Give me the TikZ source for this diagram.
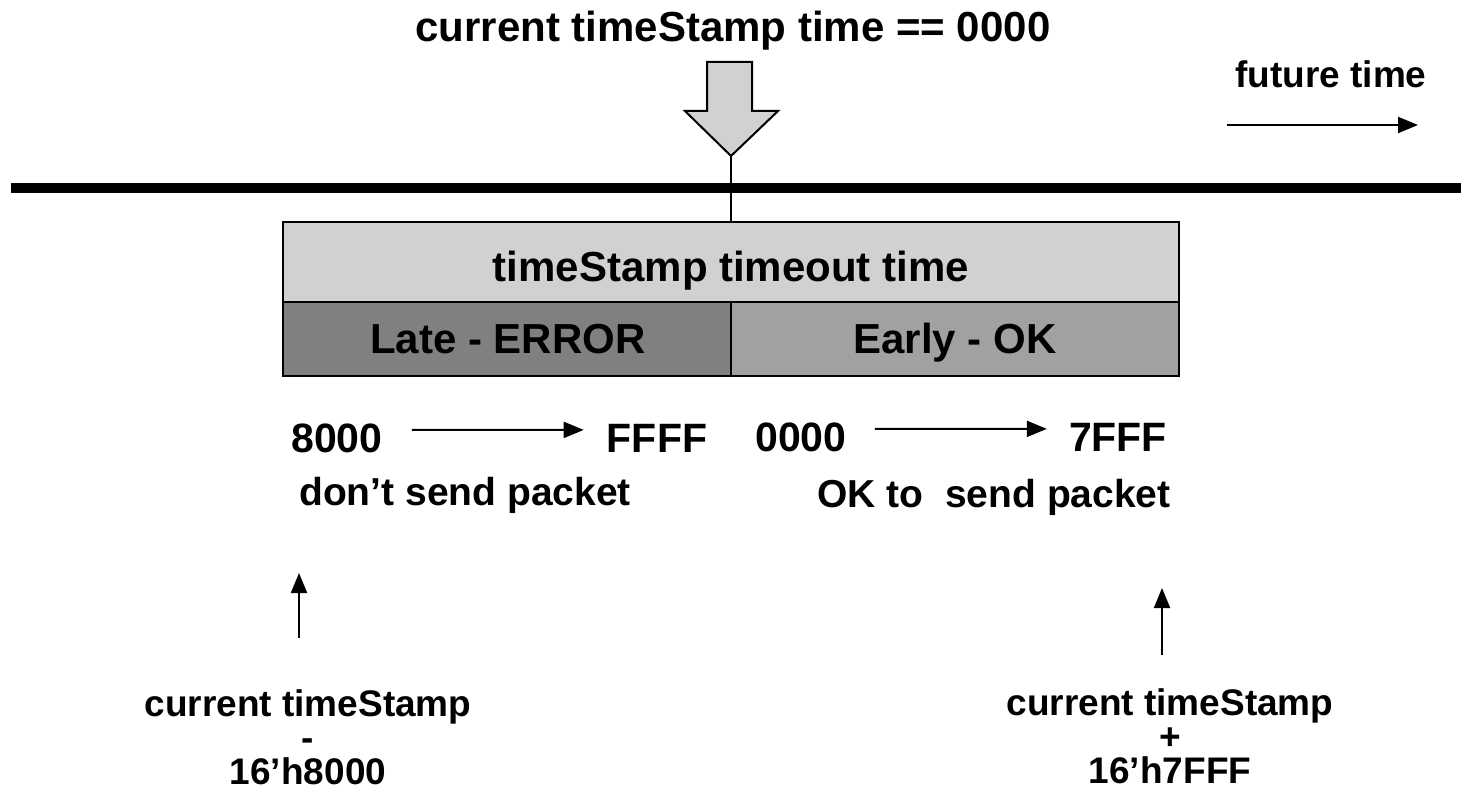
\documentclass[tikz,border=0pt]{standalone}
\usepackage{fontspec}
\setmainfont{Liberation Sans}
\usetikzlibrary{arrows.meta}
\definecolor{topgray}{HTML}{D1D1D1}
\definecolor{lategray}{HTML}{808080}
\definecolor{earlygray}{HTML}{A1A1A1}
\begin{document}
\begin{tikzpicture}[x=1pt,y=-1pt,
  txt/.style={inner sep=0pt,anchor=base,font=\fontsize{#1}{#1}\selectfont\bfseries},
  stack/.style={inner sep=0pt,align=center,font=\fontsize{37}{34}\selectfont\bfseries},
  arr/.style={line width=2pt,-{Triangle[length=20pt,width=16pt]}},
  rowbox/.style={draw,line width=2pt,inner sep=0pt}]
\useasboundingbox (0,0) rectangle (1461,791);
% time line
\draw[line width=10pt] (11,188.5) -- (1461,188.5);
% big down arrow
\draw[line width=2pt,fill=topgray,line join=miter] (707,62) -- (752,62) -- (752,111) -- (778,111) -- (731,156) -- (685,111) -- (707,111) -- cycle;
\coordinate (tip) at (731,156);
% boxes
\node[rowbox,fill=topgray,minimum width=896pt,minimum height=80pt] (row1) at (731,262) {};
\node[rowbox,fill=lategray,minimum width=448pt,minimum height=74pt] (lbox) at (507,339) {};
\node[rowbox,fill=earlygray,minimum width=448pt,minimum height=74pt] (ebox) at (955,339) {};
\draw[line width=1.5pt] (tip) -- (row1.north);
% texts
\node[txt=42] (title) at (733,42) {current timeStamp time == 0000};
\node[txt=37] (future) at (1331,88) {future time};
\coordinate (fa) at (1227,125);
\coordinate (fb) at (1418,125);
\draw[arr] (fa) -- (fb);
\node[txt=42] (ttext) at (731,282) {timeStamp timeout time};
\node[txt=42] (late) at (508,353) {Late - ERROR};
\node[txt=42] (early) at (955,353) {Early - OK};
\node[txt=41] (n8000) at (337,452) {8000};
\node[txt=41] (nFFFF) at (657,452) {FFFF};
\node[txt=41] (n0000) at (801,451) {0000};
\node[txt=41] (n7FFF) at (1118,451) {7FFF};
\draw[arr,shorten <=29pt,shorten >=23pt] ([yshift=8pt]n8000.east) -- ([yshift=8pt]nFFFF.west);
\draw[arr,shorten <=28pt,shorten >=22pt] ([yshift=8pt]n0000.east) -- ([yshift=8pt]n7FFF.west);
\node[txt=39] (dont) at (465,505) {don’t send packet};
\node[txt=39] (oksend) at (994,507) {OK to \ send packet};
% up arrows
\coordinate (la) at (299,638);
\coordinate (lb) at (299,573);
\draw[arr] (la) -- (lb);
\coordinate (ra) at (1162,655);
\coordinate (rb) at (1162,588);
\draw[arr] (ra) -- (rb);
% bottom labels
\node[stack] (lc) at (308,737) {current timeStamp\\-\\16’h8000};
\node[stack] (rc) at (1170,736) {current timeStamp\\+\\16’h7FFF};
\end{tikzpicture}
\end{document}
